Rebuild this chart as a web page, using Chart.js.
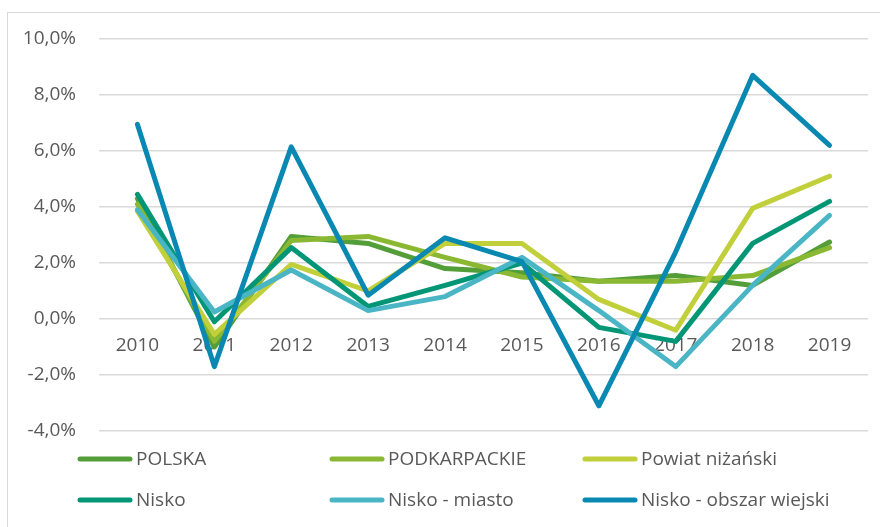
<!DOCTYPE html>
<html>
<head>
<meta charset="utf-8">
<script src="https://cdn.jsdelivr.net/npm/chart.js@4"></script>
<style>
  html, body { margin: 0; padding: 0; background: #fff; }
  #wrap { position: relative; width: 880px; height: 527px; overflow: hidden; }
  #frame { position: absolute; left: 7px; top: 12px; width: 900px; height: 600px; border: 1.5px solid #d9d9d9; }
  #chart { position: absolute; left: 0; top: 0; }
</style>
</head>
<body>
<div id="wrap">
  <div id="frame"></div>
  <canvas id="chart" width="880" height="527"></canvas>
</div>
<script>
// categories and series (percent)
const years = ['2010', '2011', '2012', '2013', '2014', '2015', '2016', '2017', '2018', '2019'];
const seriesNames = ['POLSKA', 'PODKARPACKIE', 'Powiat niżański', 'Nisko', 'Nisko - miasto', 'Nisko - obszar wiejski'];
const polska = [4.3, -1.0, 2.95, 2.7, 1.8, 1.65, 1.35, 1.55, 1.2, 2.75];
const podkarpackie = [4.1, -0.8, 2.8, 2.95, 2.2, 1.5, 1.35, 1.35, 1.55, 2.55];
const powiat = [3.85, -0.55, 1.95, 1.0, 2.7, 2.7, 0.7, -0.4, 3.95, 5.1];
const nisko = [4.45, -0.1, 2.55, 0.45, 1.2, 2.0, -0.3, -0.8, 2.7, 4.2];
const niskoMiasto = [3.9, 0.25, 1.75, 0.3, 0.8, 2.2, 0.3, -1.7, 1.2, 3.7];
const niskoWies = [6.95, -1.7, 6.15, 0.85, 2.9, 2.05, -3.1, 2.4, 8.7, 6.2];
const colors = ['#549E39', '#8AB833', '#C0CF3A', '#029676', '#4AB5C4', '#0989B1'];
const yMin = -4, yMax = 10, yStep = 2;

const allValues = [polska, podkarpackie, powiat, nisko, niskoMiasto, niskoWies];
const textColor = '#595959';
const fontFamily = '"Open Sans", "Noto Sans", sans-serif';

// x labels sit just under the zero line, behind the lines
const zeroLabels = {
    id: 'zeroLabels',
    beforeDatasetsDraw(chart) {
        const ctx = chart.ctx;
        const x = chart.scales.x, y = chart.scales.y;
        const yPos = y.getPixelForValue(0) + 27;
        ctx.save();
        ctx.font = '19px ' + fontFamily;
        ctx.fillStyle = textColor;
        ctx.textAlign = 'center';
        ctx.textBaseline = 'middle';
        chart.data.labels.forEach((lab, i) => {
            ctx.fillText(lab, x.getPixelForValue(i), yPos);
        });
        ctx.restore();
    }
};

// legend in a 3 x 2 grid
const gridLegend = {
    id: 'gridLegend',
    afterDraw(chart) {
        const ctx = chart.ctx;
        const colX = [78, 330, 583];
        const rowY = [459, 500];
        ctx.save();
        ctx.font = '19px ' + fontFamily;
        ctx.textBaseline = 'middle';
        ctx.lineCap = 'round';
        chart.data.datasets.forEach((ds, i) => {
            const cx = colX[i % 3], cy = rowY[Math.floor(i / 3)];
            ctx.strokeStyle = ds.borderColor;
            ctx.lineWidth = 5;
            ctx.beginPath();
            ctx.moveTo(cx + 2, cy);
            ctx.lineTo(cx + 52, cy);
            ctx.stroke();
            ctx.fillStyle = textColor;
            ctx.fillText(ds.label, cx + 58, cy + 1);
        });
        ctx.restore();
    }
};

const datasets = seriesNames.map((name, i) => ({
    label: name,
    data: allValues[i],
    borderColor: colors[i],
    backgroundColor: colors[i],
    borderWidth: 5,
    borderCapStyle: 'round',
    borderJoinStyle: 'round',
    pointRadius: 0,
    tension: 0,
    order: seriesNames.length - i
}));

new Chart(document.getElementById('chart'), {
    type: 'line',
    data: { labels: years, datasets: datasets },
    options: {
        responsive: false,
        animation: false,
        layout: { padding: { left: 0, right: 12, top: 39, bottom: 96 } },
        plugins: { legend: { display: false }, tooltip: { enabled: false } },
        scales: {
            x: { display: false, offset: true },
            y: {
                min: yMin,
                max: yMax,
                ticks: {
                    stepSize: yStep,
                    padding: 23,
                    color: textColor,
                    font: { family: fontFamily, size: 19 },
                    callback: v => v.toFixed(1).replace('.', ',') + '%'
                },
                grid: { color: '#d9d9d9', lineWidth: 1.5, drawTicks: false },
                border: { display: false },
                afterFit(scale) { scale.width = 99; }
            }
        }
    },
    plugins: [zeroLabels, gridLegend]
});
</script>
</body>
</html>
